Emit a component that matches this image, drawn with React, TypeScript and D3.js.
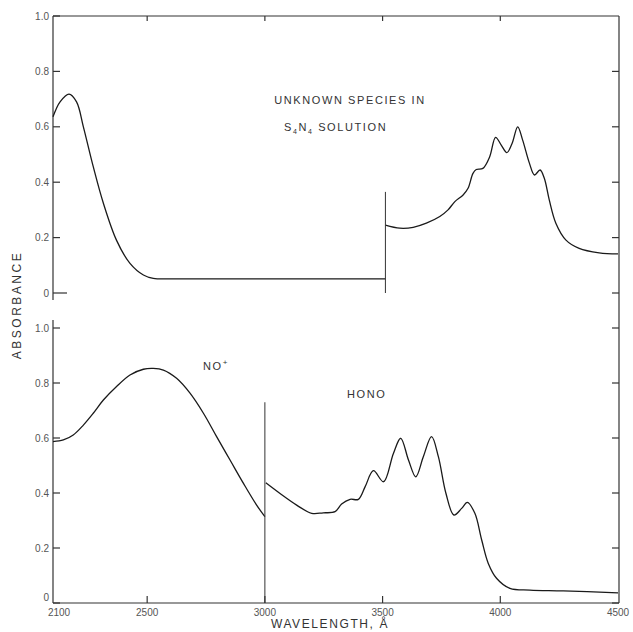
import React from 'react'
import * as d3 from 'd3'

// top panel: unknown species in S4N4 solution
const topLeftWl = [2100, 2130, 2168, 2200, 2229, 2271, 2314, 2370, 2427, 2484, 2526, 2600, 2800, 3000, 3200, 3400, 3512]
const topLeftAbs = [0.636, 0.69, 0.718, 0.69, 0.6, 0.456, 0.324, 0.19, 0.107, 0.065, 0.053, 0.051, 0.051, 0.051, 0.051, 0.051, 0.051]
const topRightWl = [3512, 3573, 3630, 3686, 3743, 3778, 3807, 3842, 3863, 3884, 3898, 3926, 3955, 3980, 4004, 4028, 4050, 4074, 4095, 4124, 4145, 4169, 4187, 4208, 4236, 4279, 4335, 4420, 4500]
const topRightAbs = [0.245, 0.234, 0.237, 0.252, 0.276, 0.3, 0.33, 0.354, 0.378, 0.432, 0.446, 0.45, 0.492, 0.562, 0.534, 0.507, 0.54, 0.6, 0.552, 0.468, 0.426, 0.444, 0.414, 0.336, 0.252, 0.191, 0.161, 0.145, 0.141]
const topJump = { wl: 3512, from: 0.365, to: 0 }

// bottom panel: NO+ and HONO
const noWl = [2100, 2144, 2186, 2229, 2271, 2314, 2370, 2427, 2484, 2526, 2569, 2625, 2682, 2739, 2795, 2852, 2909, 2965, 3000]
const noAbs = [0.587, 0.593, 0.611, 0.647, 0.69, 0.738, 0.787, 0.829, 0.85, 0.853, 0.847, 0.817, 0.763, 0.69, 0.605, 0.52, 0.435, 0.356, 0.314]
const honoWl = [3004, 3063, 3135, 3199, 3248, 3298, 3326, 3362, 3397, 3426, 3461, 3504, 3546, 3577, 3610, 3641, 3673, 3708, 3737, 3769, 3803, 3836, 3860, 3892, 3921, 3949, 3984, 4041, 4126, 4267, 4500]
const honoAbs = [0.437, 0.399, 0.356, 0.326, 0.328, 0.332, 0.36, 0.377, 0.377, 0.423, 0.481, 0.441, 0.544, 0.599, 0.52, 0.459, 0.532, 0.605, 0.532, 0.399, 0.32, 0.344, 0.366, 0.326, 0.229, 0.144, 0.09, 0.053, 0.047, 0.044, 0.037]
const bottomJump = { wl: 3000, from: 0.73, to: 0 }

const yTicks = [0, 0.2, 0.4, 0.6, 0.8, 1.0]
const yTickLabels = ['0', '0.2', '0.4', '0.6', '0.8', '1.0']
const xTicks = [2100, 2500, 3000, 3500, 4000, 4500]

const W = 633
const H = 632
const font = 'Liberation Sans, Arial, sans-serif'
const ink = '#1a1a1a'
const axisInk = '#333'
const labelInk = '#555'

const x = d3.scaleLinear().domain([2100, 4500]).range([53, 618])
const yTop = d3.scaleLinear().domain([0, 1]).range([293, 16])
const yBot = d3.scaleLinear().domain([0, 1]).range([603, 328])

const zip = (a: number[], b: number[]) => a.map((v, i) => [v, b[i]] as [number, number])

const makeLine = (y: d3.ScaleLinear<number, number>) =>
  d3
    .line<[number, number]>()
    .x(d => x(d[0]))
    .y(d => y(d[1]))
    .curve(d3.curveCatmullRom.alpha(0.5))

const App = () => {
  const lineTop = makeLine(yTop)
  const lineBot = makeLine(yBot)
  const innerTicks = xTicks.slice(1, -1)

  return (
    <svg width={W} height={H} style={{ position: 'absolute', left: 0, top: 0, background: '#fff' }}>
      <rect width={W} height={H} fill="#fff" />

      {/* frame, top panel */}
      <g stroke={axisInk} strokeWidth={1.2} fill="none">
        <line x1={x(2100)} x2={x(2100)} y1={yTop(1)} y2={yTop(0) + 7} />
        <line x1={x(2100)} x2={x(4500) + 1} y1={yTop(1)} y2={yTop(1)} />
        <line x1={x(4500) + 1} x2={x(4500) + 1} y1={yTop(1)} y2={yBot(0)} />
        <line x1={x(2100)} x2={x(2100)} y1={yBot(1) - 8} y2={yBot(0)} />
        <line x1={x(2100)} x2={x(4500) + 1} y1={yBot(0)} y2={yBot(0)} />
      </g>

      {/* y ticks both panels */}
      {[yTop, yBot].map((y, p) => (
        <g key={p}>
          {yTicks.map((t, i) => (
            <g key={i}>
              <line x1={x(2100)} x2={x(2100) + (p === 0 && t === 0 ? 14 : 7)} y1={y(t)} y2={y(t)} stroke={axisInk} strokeWidth={1.2} />
              {!(p === 0 && t === 1) && (
                <line x1={x(4500) + 1} x2={x(4500) - 6} y1={y(t)} y2={y(t)} stroke={axisInk} strokeWidth={1.2} />
              )}
              {!(p === 1 && t === 0) && (
                <text x={x(2100) - 4} y={y(t) + 3.5} textAnchor="end" fontSize={10} fontFamily={font} fill={labelInk}>
                  {yTickLabels[i]}
                </text>
              )}
            </g>
          ))}
        </g>
      ))}
      <text x={x(2100) - 4} y={yBot(0) - 2} textAnchor="end" fontSize={10} fontFamily={font} fill={labelInk}>0</text>

      {/* x ticks */}
      {innerTicks.map(t => (
        <g key={t} stroke={axisInk} strokeWidth={1.2}>
          <line x1={x(t)} x2={x(t)} y1={yBot(0)} y2={yBot(0) - 7} />
          <line x1={x(t)} x2={x(t)} y1={yTop(1)} y2={yTop(1) + 5} />
        </g>
      ))}
      {xTicks.map((t, i) => (
        <text
          key={t}
          x={x(t) + (i === 0 ? 6 : 0)}
          y={yBot(0) + 13}
          textAnchor="middle"
          fontSize={10}
          fontFamily={font}
          fill={labelInk}
        >
          {t}
        </text>
      ))}

      {/* curves */}
      <g fill="none" stroke={ink} strokeWidth={1.3}>
        <path d={lineTop(zip(topLeftWl, topLeftAbs)) || ''} />
        <path d={lineTop(zip(topRightWl, topRightAbs)) || ''} />
        <path d={lineBot(zip(noWl, noAbs)) || ''} />
        <path d={lineBot(zip(honoWl, honoAbs)) || ''} />
      </g>
      <g stroke={axisInk} strokeWidth={1}>
        <line x1={x(topJump.wl)} x2={x(topJump.wl)} y1={yTop(topJump.from)} y2={yTop(topJump.to)} />
        <line x1={x(bottomJump.wl)} x2={x(bottomJump.wl)} y1={yBot(bottomJump.from)} y2={yBot(bottomJump.to)} />
      </g>

      {/* labels */}
      <g fontFamily={font} fill="#333" fontSize={11} letterSpacing={1.6}>
        <text x={350} y={104} textAnchor="middle">UNKNOWN SPECIES IN</text>
        <text x={284} y={131}>
          S<tspan fontSize={7} dy={3}>4</tspan>
          <tspan dy={-3}>N</tspan>
          <tspan fontSize={7} dy={3}>4</tspan>
          <tspan dy={-3}>  SOLUTION</tspan>
        </text>
        <text x={203} y={370}>
          NO<tspan fontSize={8} dy={-5}>+</tspan>
        </text>
        <text x={347} y={398}>HONO</text>
        <text x={330} y={628} textAnchor="middle" fontSize={12}>WAVELENGTH, Å</text>
        <text transform="translate(21,305) rotate(-90)" textAnchor="middle" fontSize={12} letterSpacing={2.5}>ABSORBANCE</text>
      </g>
    </svg>
  )
}

export default App
